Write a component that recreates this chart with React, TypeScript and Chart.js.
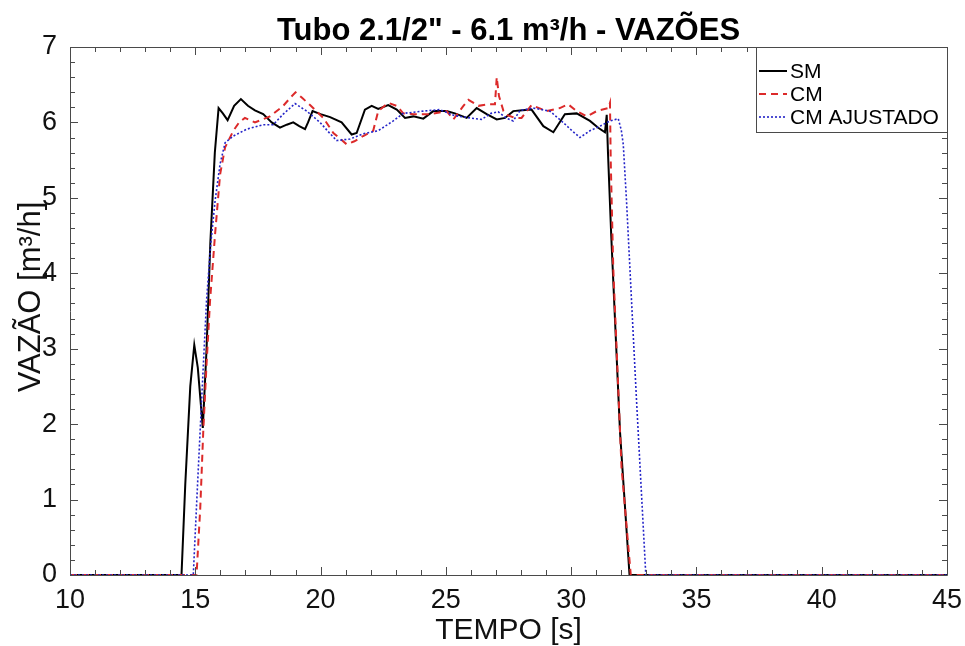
import React, { useEffect, useRef } from 'react';
import { Chart, registerables } from 'chart.js';

Chart.register(...registerables);

const chartTitle = 'Tubo 2.1/2" - 6.1 m³/h - VAZÕES';
const xAxisTitle = 'TEMPO [s]';
const yAxisTitle = 'VAZÃO [m³/h]';
const seriesLabels = ['SM', 'CM', 'CM AJUSTADO'];

const xMin = 10;
const xMax = 45;
const xStep = 5;
const yMin = 0;
const yMax = 7;
const yStep = 1;

// SM (black solid)
const smTime = [10, 14.45, 14.6, 14.8, 14.96, 15.1, 15.3, 15.45, 15.6, 15.78, 15.93, 16.1, 16.29, 16.55, 16.82, 17.1, 17.38, 17.71, 18.05, 18.38, 18.65, 18.91, 19.15, 19.38, 19.5, 19.68, 20.0, 20.38, 20.84, 21.24, 21.44, 21.77, 22.04, 22.3, 22.7, 23.04, 23.37, 23.7, 24.1, 24.5, 25.03, 25.36, 25.83, 26.23, 26.63, 27.03, 27.36, 27.69, 28.05, 28.42, 28.89, 29.29, 29.75, 30.22, 30.75, 31.08, 31.35, 31.42, 31.47, 31.6, 31.95, 32.33, 45];
const smFlow = [0, 0, 1.2, 2.5, 3.05, 2.75, 1.95, 3.0, 4.4, 5.6, 6.19, 6.12, 6.03, 6.22, 6.31, 6.22, 6.16, 6.11, 6.0, 5.93, 5.97, 6.0, 5.95, 5.91, 6.0, 6.15, 6.11, 6.07, 6.0, 5.84, 5.86, 6.17, 6.22, 6.18, 6.23, 6.17, 6.06, 6.08, 6.05, 6.15, 6.15, 6.12, 6.06, 6.19, 6.11, 6.04, 6.06, 6.15, 6.16, 6.17, 5.95, 5.87, 6.11, 6.12, 6.02, 5.93, 5.87, 6.1, 5.6, 4.5, 1.9, 0, 0];

// CM (red dashed)
const cmTime = [10, 15.05, 15.2, 15.32, 15.45, 15.59, 15.79, 15.99, 16.19, 16.52, 16.75, 16.98, 17.38, 17.98, 18.51, 18.8, 19.0, 19.25, 19.58, 20.11, 20.51, 21.04, 21.35, 21.7, 22.1, 22.3, 22.7, 23.04, 23.3, 23.7, 24.37, 25.03, 25.3, 25.7, 25.9, 26.3, 26.69, 26.96, 27.03, 27.12, 27.3, 27.43, 27.76, 28.02, 28.42, 29.02, 29.55, 29.88, 30.22, 30.62, 31.02, 31.48, 31.55, 31.58, 31.68, 32.01, 32.38, 45];
const cmFlow = [0, 0, 0.9, 1.92, 2.8, 3.64, 4.52, 5.31, 5.67, 5.89, 6.0, 6.06, 6.0, 6.08, 6.22, 6.33, 6.4, 6.33, 6.23, 6.06, 5.86, 5.71, 5.75, 5.82, 5.89, 6.15, 6.26, 6.22, 6.12, 6.11, 6.11, 6.15, 6.04, 6.22, 6.3, 6.22, 6.24, 6.24, 6.6, 6.35, 6.15, 6.1, 6.06, 6.06, 6.23, 6.15, 6.19, 6.24, 6.15, 6.08, 6.15, 6.19, 6.26, 5.49, 4.08, 1.43, 0, 0];

// CM AJUSTADO (blue dotted)
const cmAjTime = [10, 14.92, 15.06, 15.25, 15.45, 15.62, 15.79, 15.99, 16.19, 16.52, 17.05, 17.71, 18.11, 18.51, 18.98, 19.45, 19.98, 20.3, 20.64, 21.17, 21.7, 22.3, 22.9, 23.3, 24.1, 24.76, 25.36, 25.96, 26.43, 26.8, 27.09, 27.4, 27.69, 27.96, 28.49, 29.15, 29.68, 30.0, 30.35, 30.75, 31.15, 31.55, 31.88, 32.0, 32.08, 32.21, 32.61, 32.98, 45];
const cmAjFlow = [0, 0, 0.99, 2.3, 3.64, 4.4, 4.96, 5.45, 5.73, 5.82, 5.91, 5.97, 5.97, 6.11, 6.25, 6.15, 6.0, 5.88, 5.76, 5.78, 5.85, 5.89, 6.02, 6.12, 6.15, 6.17, 6.09, 6.06, 6.04, 6.12, 6.14, 6.06, 6.02, 6.16, 6.19, 6.15, 6.0, 5.9, 5.8, 5.89, 5.95, 6.02, 6.05, 5.9, 5.71, 4.96, 2.31, 0, 0];

const toPoints = (xs: number[], ys: number[]) => xs.map((x, i) => ({ x, y: ys[i] }));

const FONT = '"Liberation Sans", Arial, sans-serif';
const AXIS_COLOR = '#4a4a4a';

const framePlugin = {
  id: 'matlabFrame',
  afterDatasetsDraw(chart: any) {
    const { ctx, chartArea: a, scales } = chart;
    const xs = scales.x;
    const ys = scales.y;
    ctx.save();
    ctx.strokeStyle = AXIS_COLOR;
    ctx.lineWidth = 1;
    ctx.beginPath();
    ctx.rect(Math.round(a.left) + 0.5, Math.round(a.top) + 0.5, Math.round(a.right - a.left), Math.round(a.bottom - a.top));
    for (let v = xMin; v <= xMax; v += 1) {
      const px = Math.round(xs.getPixelForValue(v)) + 0.5;
      const len = v % xStep === 0 ? 8 : 5;
      ctx.moveTo(px, a.bottom);
      ctx.lineTo(px, a.bottom - len);
      ctx.moveTo(px, a.top);
      ctx.lineTo(px, a.top + len);
    }
    for (let i = 0; i <= (yMax - yMin) * 5; i++) {
      const v = yMin + i * 0.2;
      const py = Math.round(ys.getPixelForValue(v)) + 0.5;
      const len = i % 5 === 0 ? 8 : 5;
      ctx.moveTo(a.left, py);
      ctx.lineTo(a.left + len, py);
      ctx.moveTo(a.right, py);
      ctx.lineTo(a.right - len, py);
    }
    ctx.stroke();
    ctx.restore();
  },
  afterDraw(chart: any) {
    const { ctx, chartArea: a } = chart;
    ctx.save();
    // title
    ctx.fillStyle = '#000';
    ctx.font = `bold 31px ${FONT}`;
    ctx.textAlign = 'center';
    ctx.textBaseline = 'alphabetic';
    ctx.fillText(chartTitle, (a.left + a.right) / 2, 40);
    // y axis title
    ctx.save();
    ctx.translate(31, 297);
    ctx.rotate(-Math.PI / 2);
    ctx.font = `31px ${FONT}`;
    ctx.textAlign = 'center';
    ctx.textBaseline = 'middle';
    ctx.fillStyle = '#111';
    ctx.fillText(yAxisTitle, 0, 0);
    ctx.restore();
    // legend
    const boxL = 756;
    const boxR = Math.round(a.right);
    const boxT = Math.round(a.top);
    const boxB = 132;
    ctx.fillStyle = '#fff';
    ctx.fillRect(boxL, boxT, boxR - boxL, boxB - boxT);
    ctx.strokeStyle = AXIS_COLOR;
    ctx.lineWidth = 1;
    ctx.strokeRect(boxL + 0.5, boxT + 0.5, boxR - boxL, boxB - boxT);
    const rows = [71, 94, 117];
    chart.data.datasets.forEach((ds: any, i: number) => {
      const yy = rows[i];
      ctx.save();
      ctx.strokeStyle = ds.borderColor;
      ctx.lineWidth = ds.borderWidth;
      ctx.setLineDash(ds.borderDash || []);
      ctx.beginPath();
      ctx.moveTo(759, yy);
      ctx.lineTo(787, yy);
      ctx.stroke();
      ctx.restore();
      ctx.fillStyle = '#000';
      ctx.font = `21px ${FONT}`;
      ctx.textAlign = 'left';
      ctx.textBaseline = 'middle';
      ctx.fillText(ds.label, 790, yy + 1);
    });
    ctx.restore();
  },
};

export default function App() {
  const canvasRef = useRef<HTMLCanvasElement | null>(null);

  useEffect(() => {
    if (!canvasRef.current) return;
    const chart = new Chart(canvasRef.current, {
      type: 'line',
      data: {
        datasets: [
          {
            label: seriesLabels[0],
            data: toPoints(smTime, smFlow),
            borderColor: '#000000',
            borderWidth: 2,
            pointRadius: 0,
            tension: 0,
            order: 2,
          },
          {
            label: seriesLabels[1],
            data: toPoints(cmTime, cmFlow),
            borderColor: '#dc2a2a',
            borderWidth: 2,
            borderDash: [7, 5],
            pointRadius: 0,
            tension: 0,
            order: 1,
          },
          {
            label: seriesLabels[2],
            data: toPoints(cmAjTime, cmAjFlow),
            borderColor: '#2424c8',
            borderWidth: 1.6,
            borderDash: [2, 2],
            pointRadius: 0,
            tension: 0,
            order: 0,
          },
        ],
      },
      options: {
        responsive: false,
        animation: false,
        devicePixelRatio: 1,
        layout: { padding: { top: 47, right: 18, left: 0, bottom: 0 } },
        plugins: {
          legend: { display: false },
          title: { display: false },
          tooltip: { enabled: false },
        },
        scales: {
          x: {
            type: 'linear',
            min: xMin,
            max: xMax,
            grid: { display: false, drawTicks: false },
            border: { display: false },
            ticks: {
              stepSize: xStep,
              color: '#111',
              padding: 9,
              maxRotation: 0,
              font: { family: FONT, size: 27 },
            },
            title: {
              display: true,
              text: xAxisTitle,
              color: '#111',
              font: { family: FONT, size: 30, lineHeight: 1 },
              padding: { top: 0, bottom: 0 },
            },
            afterFit: (s: any) => {
              s.height = 71;
              s.paddingLeft = 0;
              s.paddingRight = 0;
            },
          },
          y: {
            type: 'linear',
            min: yMin,
            max: yMax,
            grid: { display: false, drawTicks: false },
            border: { display: false },
            ticks: {
              stepSize: yStep,
              color: '#111',
              padding: 13,
              font: { family: FONT, size: 27 },
            },
            afterFit: (s: any) => {
              s.width = 70;
              s.paddingTop = 0;
              s.paddingBottom = 0;
            },
          },
        },
      },
      plugins: [framePlugin],
    });
    return () => chart.destroy();
  }, []);

  return (
    <div style={{ position: 'absolute', left: 0, top: 0, width: 965, height: 646, background: '#fff' }}>
      <canvas ref={canvasRef} width={965} height={646} />
    </div>
  );
}
